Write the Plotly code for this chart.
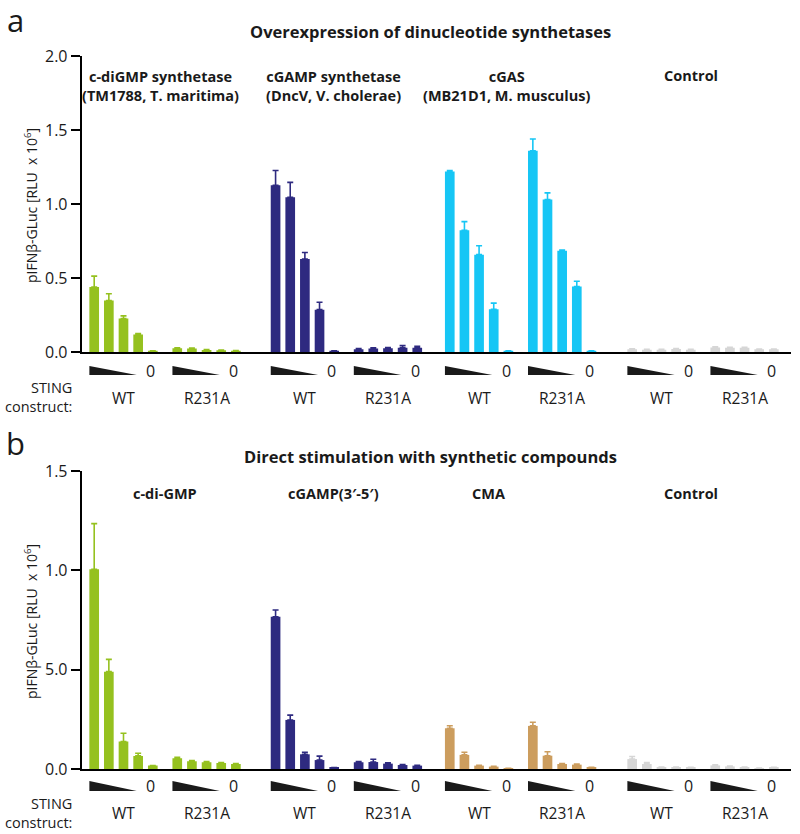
import plotly.graph_objects as go

# ---------------- data ----------------
constructs = ["WT", "R231A"]

a_compounds = ["c-diGMP synthetase<br>(TM1788, T. maritima)", "cGAMP synthetase<br>(DncV, V. cholerae)",
               "cGAS<br>(MB21D1, M. musculus)", "Control"]
a_colors = ["#95c11f", "#2e2a80", "#16c6f5", "#d6d6d6"]
a_values = [
    [[0.44, 0.35, 0.228, 0.12, 0.01], [0.027, 0.025, 0.016, 0.013, 0.011]],
    [[1.127, 1.047, 0.63, 0.288, 0.01], [0.02, 0.025, 0.027, 0.03, 0.03]],
    [[1.221, 0.824, 0.659, 0.29, 0.01], [1.36, 1.031, 0.685, 0.444, 0.01]],
    [[0.02, 0.018, 0.018, 0.022, 0.018], [0.033, 0.03, 0.03, 0.02, 0.02]],
]
a_errors = [
    [[0.074, 0.045, 0.018, 0.007, 0.0], [0.003, 0.003, 0.002, 0.002, 0.0]],
    [[0.10, 0.10, 0.044, 0.05, 0.0], [0.005, 0.005, 0.005, 0.015, 0.01]],
    [[0.005, 0.058, 0.06, 0.042, 0.0], [0.08, 0.045, 0.005, 0.036, 0.0]],
    [[0.004, 0.002, 0.002, 0.003, 0.002], [0.004, 0.004, 0.003, 0.002, 0.002]],
]

b_compounds = ["c-di-GMP", "cGAMP(3\u2032-5\u2032)", "CMA", "Control"]
b_colors = ["#95c11f", "#2e2a80", "#cc9d5e", "#d6d6d6"]
b_values = [
    [[1.005, 0.49, 0.138, 0.066, 0.017], [0.054, 0.039, 0.034, 0.03, 0.025]],
    [[0.766, 0.247, 0.074, 0.045, 0.007], [0.034, 0.035, 0.027, 0.02, 0.017]],
    [[0.205, 0.071, 0.017, 0.012, 0.003], [0.217, 0.067, 0.025, 0.022, 0.008]],
    [[0.05, 0.025, 0.01, 0.01, 0.008], [0.018, 0.013, 0.01, 0.005, 0.008]],
]
b_errors = [
    [[0.23, 0.062, 0.042, 0.013, 0.0], [0.005, 0.004, 0.004, 0.003, 0.003]],
    [[0.034, 0.024, 0.01, 0.02, 0.0], [0.004, 0.014, 0.004, 0.003, 0.002]],
    [[0.013, 0.013, 0.002, 0.002, 0.0], [0.018, 0.02, 0.003, 0.003, 0.0]],
    [[0.013, 0.007, 0.0, 0.0, 0.0], [0.003, 0.002, 0.0, 0.0, 0.0]],
]

a_yticks = [0.0, 0.5, 1.0, 1.5, 2.0]
a_yticktext = ["0.0", "0.5", "1.0", "1.5", "2.0"]
b_yticks = [0.0, 0.5, 1.0, 1.5]
b_yticktext = ["0.0", "5.0", "1.0", "1.5"]

# ---------------- layout parameters (slot units) ----------------
compound_base = [0.0, 12.38, 24.27, 36.72]
construct_offset = 5.67
bar_w = 0.66
x_range = [-0.853, 47.56]

FONT = "Open Sans"
fig = go.Figure()

panels = [
    dict(vals=a_values, errs=a_errors, cols=a_colors, xa="x", ya="y"),
    dict(vals=b_values, errs=b_errors, cols=b_colors, xa="x2", ya="y2"),
]
for p in panels:
    for ci in range(4):
        xs, ys, es = [], [], []
        for gi in range(2):
            for bi in range(5):
                xs.append(compound_base[ci] + gi * construct_offset + bi)
                ys.append(p["vals"][ci][gi][bi])
                es.append(p["errs"][ci][gi][bi])
        fig.add_trace(go.Bar(
            x=xs, y=ys, width=bar_w, xaxis=p["xa"], yaxis=p["ya"],
            marker=dict(color=p["cols"][ci], line=dict(width=0)),
            error_y=dict(type="data", symmetric=False, array=es, arrayminus=[0] * len(es),
                         color=p["cols"][ci], thickness=1.6, width=3),
            showlegend=False, hoverinfo="skip"))

W, H = 800, 834
def py(px):
    return 1 - px / H

axis_common = dict(showgrid=False, zeroline=False, showline=True, linecolor="black", linewidth=2,
                   automargin=False)
fig.update_layout(
    template="none",
    width=W, height=H, margin=dict(l=0, r=0, t=0, b=0, pad=0, autoexpand=False),
    paper_bgcolor="white", plot_bgcolor="white", barmode="overlay",
    font=dict(family=FONT, color="#1a1a1a", size=14),
    xaxis=dict(domain=[81.7 / W, 791 / W], range=x_range, anchor="y", showticklabels=False,
               ticks="", **axis_common),
    xaxis2=dict(domain=[81.7 / W, 791 / W], range=x_range, anchor="y2", showticklabels=False,
                ticks="", **axis_common),
    yaxis=dict(domain=[py(352.3), py(56)], range=[0, 2.0], anchor="x", tickvals=a_yticks,
               ticktext=a_yticktext, ticks="outside", ticklen=9, tickwidth=2, tickcolor="black",
               tickfont=dict(size=16, family=FONT), **axis_common),
    yaxis2=dict(domain=[py(769), py(471)], range=[0, 1.5], anchor="x2", tickvals=b_yticks,
                ticktext=b_yticktext, ticks="outside", ticklen=9, tickwidth=2, tickcolor="black",
                tickfont=dict(size=16, family=FONT), **axis_common),
)

ann = []
shapes = []
def A(**kw):
    d = dict(showarrow=False, xanchor="center", yanchor="middle")
    d.update(kw)
    ann.append(d)

# panel letters and titles
A(text="a", x=15 / W, y=py(20), xref="paper", yref="paper", font=dict(size=31, family=FONT))
A(text="b", x=15 / W, y=py(443), xref="paper", yref="paper", font=dict(size=31, family=FONT))
A(text="<b>Overexpression of dinucleotide synthetases</b>", x=430 / W, y=py(32),
  xref="paper", yref="paper", font=dict(size=16.5, family=FONT))
A(text="<b>Direct stimulation with synthetic compounds</b>", x=430 / W, y=py(456),
  xref="paper", yref="paper", font=dict(size=16.5, family=FONT))

# compound labels
a_label_x = [160, 333, 507, 691]
b_label_x = [165, 333, 489, 691]
for ci in range(4):
    two = "<br>" in a_compounds[ci]
    A(text="<b>" + a_compounds[ci] + "</b>", x=a_label_x[ci] / W, y=py(85.5 if two else 76),
      xref="paper", yref="paper", font=dict(size=14.5, family=FONT))
    A(text="<b>" + b_compounds[ci] + "</b>", x=b_label_x[ci] / W, y=py(493),
      xref="paper", yref="paper", font=dict(size=14.5, family=FONT))

# y titles
ytitle = "pIFN\u03b2-GLuc [RLU  x 10<sup>6</sup>]"
A(text=ytitle, x=31 / W, y=py(206), xref="paper", yref="paper", textangle=-90,
  font=dict(size=14, family=FONT))
A(text=ytitle, x=31 / W, y=py(622), xref="paper", yref="paper", textangle=-90,
  font=dict(size=14, family=FONT))

# dose triangles, zeros, construct labels
rows = [dict(xref="x", tri_bot=375, tri_top=366, zero_y=371, lab_y=398, sting_y=397.5),
        dict(xref="x2", tri_bot=791, tri_top=781, zero_y=786, lab_y=813, sting_y=813)]
for r in rows:
    for ci in range(4):
        for gi in range(2):
            base = compound_base[ci] + gi * construct_offset
            x0, x1 = base - 0.33, base + 2.9
            shapes.append(dict(type="path", xref=r["xref"], yref="paper",
                               path=f"M {x0},{py(r['tri_bot'])} L {x0},{py(r['tri_top'])} L {x1},{py(r['tri_bot'])} Z",
                               fillcolor="#1a1a1a", line=dict(width=0)))
            A(text="0", x=base + 3.85, y=py(r["zero_y"]), xref=r["xref"], yref="paper",
              font=dict(size=16, family=FONT))
            A(text=constructs[gi], x=base + 2.0, y=py(r["lab_y"]), xref=r["xref"],
              yref="paper", font=dict(size=15.5, family=FONT))
    A(text="STING<br>construct:", x=74 / W, y=py(r["sting_y"]), xref="paper",
      yref="paper", xanchor="right", align="right", font=dict(size=14.5, family=FONT))

fig.update_layout(annotations=ann, shapes=shapes)
fig.write_html("out.html", config={"displayModeBar": False},
               post_script="document.body.style.margin='0';document.body.style.padding='0';")
